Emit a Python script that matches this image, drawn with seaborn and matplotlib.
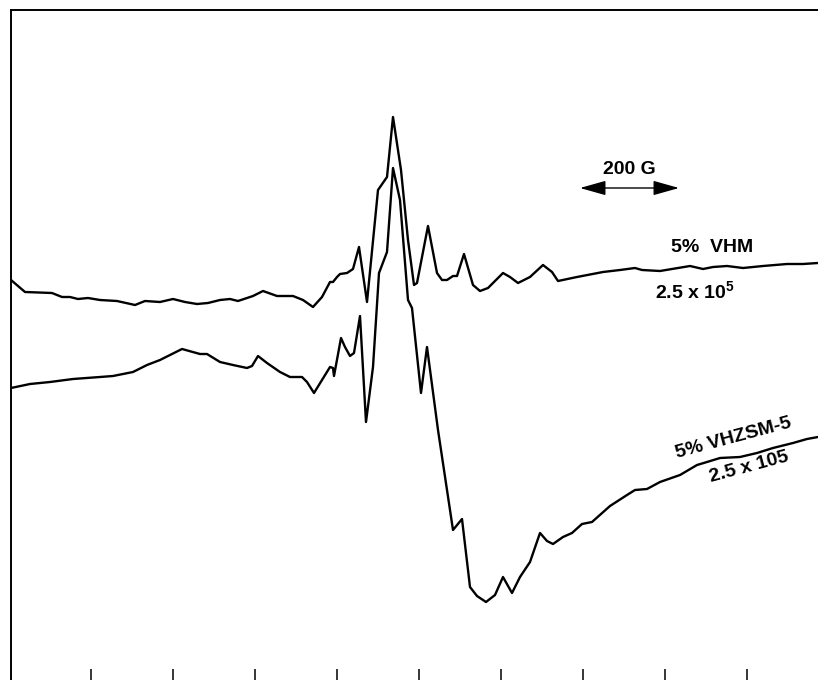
import numpy as np
import pandas as pd
import matplotlib
matplotlib.use("Agg")
import matplotlib.pyplot as plt
from matplotlib.patches import ArrowStyle
import seaborn as sns

# Magnetic field (G) and first-derivative EPR signal (arb. units, offset traces)
field_vhm = [3006, 3034, 3088, 3108, 3124, 3140, 3160, 3184, 3218, 3254, 3274, 3304,
             3330, 3354, 3378, 3400, 3424, 3444, 3460, 3490, 3510, 3538, 3570, 3590,
             3610, 3628, 3644, 3650, 3658, 3664, 3678, 3690, 3702, 3718, 3740, 3758,
             3770, 3786, 3800, 3812, 3818, 3840, 3858, 3868, 3878, 3890, 3898, 3912,
             3930, 3944, 3960, 3970, 3990, 4004, 4020, 4044, 4070, 4088, 4100, 4138,
             4190, 4224, 4254, 4268, 4304, 4340, 4364, 4390, 4410, 4438, 4470, 4510,
             4558, 4590, 4620]
signal_vhm = [400, 388, 387, 383, 383, 381, 382, 380, 379, 375, 379, 378,
              381, 378, 376, 377, 380, 381, 379, 384, 389, 384, 384, 380,
              373, 383, 398, 398, 403, 406, 407, 411, 433, 378, 490, 503,
              563, 510, 440, 395, 397, 454, 407, 400, 400, 404, 404, 426,
              395, 389, 392, 397, 407, 403, 397, 403, 415, 408, 399, 403,
              408, 410, 412, 410, 409, 412, 414, 411, 413, 414, 412, 414,
              416, 416, 417]

field_zsm = [3006, 3044, 3084, 3130, 3184, 3210, 3250, 3278, 3304, 3348, 3384, 3398,
             3424, 3450, 3478, 3488, 3500, 3518, 3544, 3564, 3588, 3598, 3612, 3628,
             3644, 3650, 3652, 3666, 3674, 3684, 3692, 3704, 3716, 3730, 3742, 3758,
             3770, 3784, 3800, 3808, 3826, 3838, 3860, 3890, 3908, 3924, 3938, 3956,
             3974, 3990, 4008, 4024, 4044, 4064, 4078, 4090, 4110, 4128, 4148, 4168,
             4204, 4238, 4254, 4278, 4304, 4344, 4378, 4398, 4424, 4464, 4498, 4530,
             4570, 4598, 4620]
signal_zsm = [292, 296, 298, 301, 303, 304, 308, 315, 320, 331, 326, 326,
              318, 315, 312, 314, 324, 317, 308, 303, 303, 298, 287, 300,
              313, 312, 304, 342, 333, 324, 327, 364, 258, 313, 407, 428,
              512, 480, 380, 372, 287, 333, 250, 150, 161, 93, 84, 78,
              85, 103, 87, 103, 118, 147, 139, 136, 143, 147, 156, 158,
              174, 185, 190, 191, 198, 205, 215, 218, 222, 223, 227, 232,
              237, 241, 243]

field_ticks = [3166, 3330, 3494, 3658, 3822, 3986, 4150, 4314, 4478]

sns.set_style("white")
plt.rcParams["font.family"] = ["Liberation Sans", "DejaVu Sans"]
plt.rcParams["mathtext.default"] = "regular"

fig = plt.figure(figsize=(8.18, 6.8), dpi=100)
ax = fig.add_axes([11 / 818, 0.0, 1 - 11 / 818, 670 / 680])

df_vhm = pd.DataFrame({"B": field_vhm, "S": signal_vhm})
df_zsm = pd.DataFrame({"B": field_zsm, "S": signal_zsm})
for df in (df_vhm, df_zsm):
    sns.lineplot(data=df, x="B", y="S", sort=False, color="black", lw=1.7,
                 ax=ax, estimator=None, solid_joinstyle="round",
                 solid_capstyle="round")

ax.set_xlim(3006, 4620)
ax.set_ylim(0, 670)
ax.set_xlabel("")
ax.set_ylabel("")
ax.set_xticks(field_ticks)
ax.set_xticklabels([])
ax.set_yticks([])
ax.tick_params(axis="x", direction="in", length=8, width=1.1, color="black",
               bottom=True, pad=0)
for side in ("right", "bottom"):
    ax.spines[side].set_visible(False)
for side in ("left", "top"):
    ax.spines[side].set_color("black")
    ax.spines[side].set_linewidth(1.4)

txt = dict(color="black", ha="center", va="center", fontsize=14, fontweight="bold")
ax.text(4408, 433, "5%  VHM", **txt)
ax.text(4374, 389, "2.5 x 10$^{5}$", **txt)
ax.text(4242, 511, "200 G", **txt)
ax.text(4450, 242, "5% VHZSM-5", rotation=15, **txt)
ax.text(4482, 213, "2.5 x 105", rotation=15, **txt)

# 200 G scale bar
ax.annotate("", xy=(4342, 492), xytext=(4144, 492),
            arrowprops=dict(arrowstyle=ArrowStyle("<|-|>", head_length=1.6,
                                                  head_width=0.45),
                            mutation_scale=10, color="black", lw=1.0,
                            shrinkA=0, shrinkB=0))

fig.savefig("out.png", dpi=100)
